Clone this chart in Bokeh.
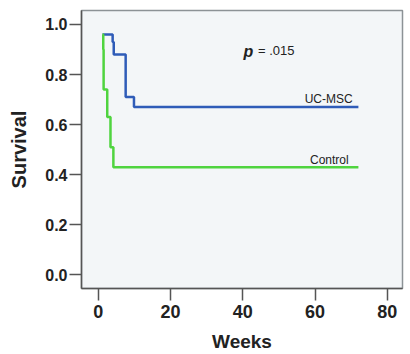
from bokeh.plotting import figure
from bokeh.models import Range1d, FixedTicker
from bokeh.core.properties import value
from bokeh.embed import file_html
from bokeh.resources import INLINE

# Kaplan-Meier step data
uc_weeks = [1.2, 4.0, 4.3, 7.6, 9.9, 72]
uc_surv = [0.96, 0.93, 0.88, 0.71, 0.67, 0.67]
control_weeks = [1.2, 1.4, 1.5, 2.5, 3.4, 4.2, 72]
control_surv = [0.96, 0.90, 0.74, 0.63, 0.51, 0.43, 0.43]
x_ticks = [0, 20, 40, 60, 80]
y_ticks = [0.0, 0.2, 0.4, 0.6, 0.8, 1.0]

FONT = "Liberation Sans"

p = figure(width=410, height=354, output_backend="svg", toolbar_location=None,
           x_range=Range1d(-4.62, 84.2), y_range=Range1d(-0.0545, 1.0557),
           min_border_left=81, min_border_top=10, min_border_right=8, min_border_bottom=65)
p.border_fill_color = "white"
p.outline_line_color = "#8c9296"
p.outline_line_width = 1.5
p.xgrid.visible = False
p.ygrid.visible = False
p.background_fill_color = "#f3f6f8"

p.step(uc_weeks, uc_surv, mode="after", line_color="#2f5cb8", line_width=2.5)
p.step(control_weeks, control_surv, mode="after", line_color="#4fd43f", line_width=2.5)

p.text(x=[70.4], y=[0.704], text=["UC-MSC"], text_align="right", text_baseline="alphabetic",
       text_font=value(FONT), text_font_size="12px", text_color="#222222")
p.text(x=[69.3], y=[0.46], text=["Control"], text_align="right", text_baseline="alphabetic",
       text_font=value(FONT), text_font_size="12px", text_color="#222222")
p.text(x=[40.2], y=[0.892], text=["p"], text_align="left", text_baseline="alphabetic",
       text_font=value(FONT), text_font_size="16px", text_font_style="bold italic", text_color="#222222")
p.text(x=[44.2], y=[0.896], text=["= .015"], text_align="left", text_baseline="alphabetic",
       text_font=value(FONT), text_font_size="13px", text_color="#222222")

for ax in (p.xaxis[0], p.yaxis[0]):
    ax.axis_line_color = "#555555"
    ax.axis_line_width = 1.5
    ax.major_tick_line_color = "#555555"
    ax.major_tick_line_width = 1.5
    ax.major_tick_out = 12
    ax.major_tick_in = 0
    ax.minor_tick_line_color = None
    ax.major_label_text_font = FONT
    ax.major_label_text_font_style = "bold"
    ax.major_label_text_color = "#222222"
    ax.axis_label_text_font = FONT
    ax.axis_label_text_font_style = "bold"
    ax.axis_label_text_color = "#222222"

p.xaxis.ticker = FixedTicker(ticks=x_ticks)
p.yaxis.ticker = FixedTicker(ticks=y_ticks)
p.yaxis.major_label_overrides = {t: f"{t:.1f}" for t in y_ticks}
p.xaxis.major_label_text_font_size = "18px"
p.yaxis.major_label_text_font_size = "16px"
p.xaxis.major_label_standoff = 4
p.yaxis.major_label_standoff = 2
p.xaxis.axis_label = "Weeks"
p.yaxis.axis_label = "Survival"
p.xaxis.axis_label_text_font_size = "19px"
p.yaxis.axis_label_text_font_size = "20px"
p.xaxis.axis_label_standoff = 10
p.yaxis.axis_label_standoff = 12

open("out.html", "w").write(file_html(p, INLINE))
